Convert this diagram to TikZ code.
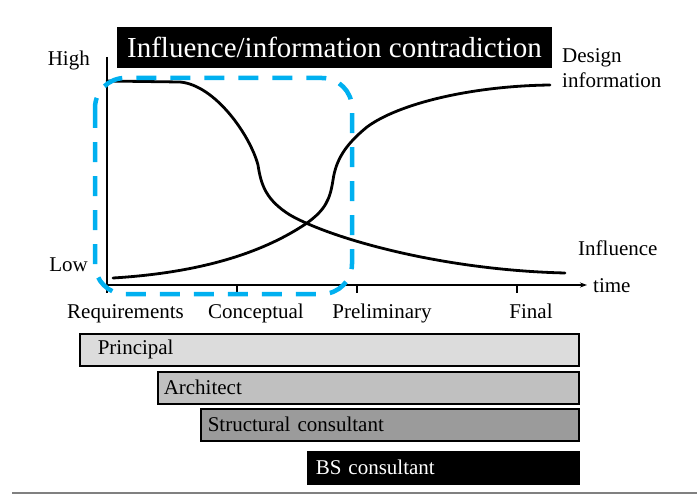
\documentclass[tikz,border=0pt]{standalone}
\usepackage{fontspec}
\setmainfont{Liberation Serif}
\usetikzlibrary{arrows.meta,positioning}
\definecolor{phaseblue}{RGB}{0,176,240}
\definecolor{principalgray}{RGB}{220,220,220}
\definecolor{architectgray}{RGB}{192,192,192}
\definecolor{structgray}{RGB}{155,155,155}

\begin{document}
\begin{tikzpicture}[x=10pt, y=-10pt,
      every node/.style={font=\fontsize{21}{25}\selectfont, inner sep=0pt},
      axis/.style={line width=1.2pt},
      curve/.style={line width=2.8pt, line cap=round},
      phasebox/.style={draw=phaseblue, line width=4.5pt, dash pattern=on 20pt off 14pt, rounded corners=30pt},
      bar/.style={draw, line width=1.5pt, minimum height=32pt, anchor=north west, align=left},
    ]
    \useasboundingbox (0,0) rectangle (69.7,49.5);

    \node[fill=black, text=white, minimum width=435pt, minimum height=41pt, font=\fontsize{29}{32}\selectfont] (title) at (33.45,4.75) {Influence/information contradiction};

    % axes
    \coordinate (ytop) at (10.7,5.7);
    \coordinate (origin) at (10.7,28.5);
    \coordinate (xend) at (58.7,28.5);
    \draw[axis,-{Stealth[length=7pt,width=5pt]}] (ytop) -- (origin) -- (xend);
    \foreach \x in {10.7,23.7,35.7,51.7}
      \draw[axis] (\x,28.5) -- (\x,29.3);

    \node[anchor=base east] (high) at (9.0,6.6) {High};
    \node[anchor=base east] (low) at (8.8,27.1) {Low};
    \node[anchor=base west] (time) at (59.3,29.2) {time};

    \foreach \x/\stage [count=\i] in {12.55/Requirements,25.6/Conceptual,38.2/Preliminary,53.1/Final}
      \node[anchor=base] (stage\i) at (\x,31.8) {\stage};

    % curves
    \draw[curve] (10.7,8.1) -- (18,8.2) .. controls (21.5,8.5) and (25,13.5) .. (25.8,16.5)
      .. controls (26.1,18.5) and (26.6,20) .. (29,21.5) .. controls (33,23.8) and (44,27) .. (56.5,27.3);
    \draw[curve] (11.3,27.8) .. controls (19.5,27.3) and (26,25.5) .. (30.7,22.3)
      .. controls (32.5,21) and (33,20) .. (33.3,18) .. controls (33.6,16) and (34.5,14.5) .. (36.7,12.7)
      .. controls (39.8,10.4) and (47,8.6) .. (55,8.5);

    \node[anchor=north west, align=left] (design) at (56.2,4.8) {Design\\information};
    \node[anchor=base west] (influence) at (57.8,25.5) {Influence};

    \draw[phasebox] (9.5,7.8) rectangle (35.2,29.4);

    % participants
    \node[bar, fill=principalgray, text width=463pt, inner xsep=18pt] (principal) at (7.9,33.3) {Principal};
    \node[bar, fill=architectgray, text width=409pt, inner xsep=6pt] (architect) at (15.7,37.1) {Architect};
    \node[bar, fill=structgray, text width=364pt, inner xsep=7pt] (structural) at (20.0,40.8) {Structural consultant};
    \node[bar, fill=black, text=white, text width=255pt, inner xsep=8pt] (bs) at (30.7,45.1) {BS consultant};

    \draw[gray, line width=2.5pt] (1.2,49.3) -- (69.7,49.3);
  \end{tikzpicture}
\end{document}
